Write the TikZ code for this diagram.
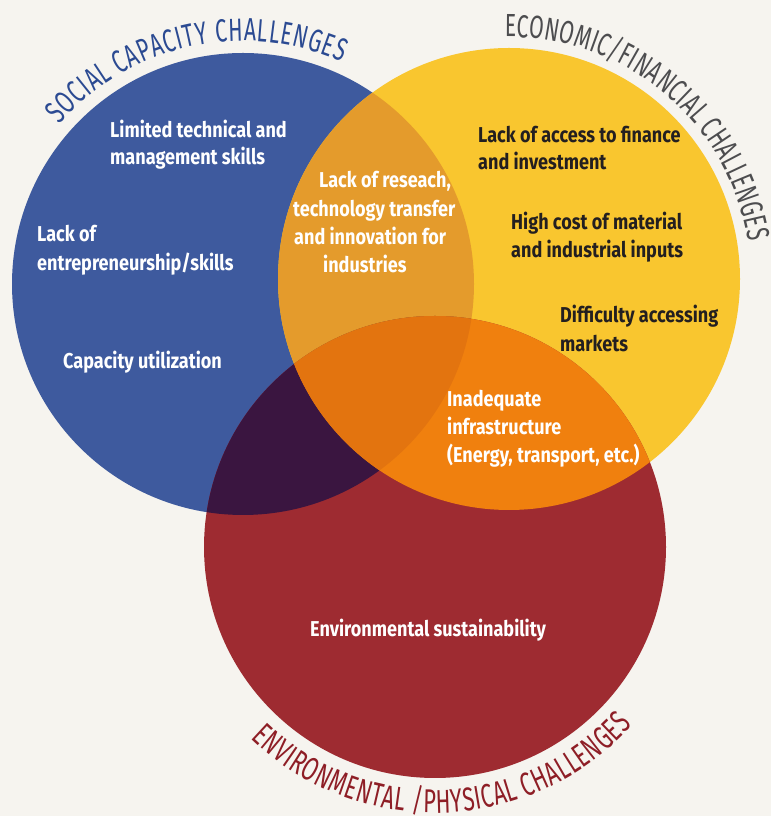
\documentclass[tikz,border=0pt]{standalone}
\usepackage{fontspec}
\setmainfont{Fira Sans}[FakeStretch=0.84]
\newfontfamily\lblfamily{Fira Sans}[FakeStretch=0.66]
\usetikzlibrary{decorations.text}
\definecolor{bgc}{HTML}{F6F4EF}
\definecolor{cblue}{HTML}{3E5A9E}
\definecolor{cyellow}{HTML}{F9C62F}
\definecolor{cred}{HTML}{9E2B31}
\definecolor{cby}{HTML}{E49B2C}
\definecolor{cbr}{HTML}{3A1540}
\definecolor{cyr}{HTML}{F0800E}
\definecolor{cbyr}{HTML}{E3740F}
\definecolor{tdark}{HTML}{231F20}
\definecolor{lblue}{HTML}{2B4A92}
\definecolor{lgray}{HTML}{4D4D4F}
\definecolor{lred}{HTML}{8E1E26}
\newcommand{\lblfont}{\lblfamily\fontsize{32}{32}\selectfont}
\newcommand{\lblfontb}{\lblfamily\fontsize{33}{33}\selectfont}
\tikzset{
  txt/.style={anchor=base west, inner sep=0pt, font=\bfseries\fontsize{21.5}{28}\selectfont, text=white},
  dtxt/.style={txt, text=tdark},
  arclabel/.style={decorate, decoration={text along path, text align=fit to path, text color=#1}}
}
\begin{document}
\begin{tikzpicture}[x=1pt,y=1pt]
\fill[bgc] (0,0) rectangle (771,816);
\useasboundingbox (0,0) rectangle (771,816);
\coordinate (B) at (243,532);
\coordinate (Y) at (509,537);
\coordinate (R) at (435,269);
% circles
\fill[cblue] (B) circle (231);
\fill[cyellow] (Y) circle (231);
\fill[cred] (R) circle (231);
\begin{scope}
  \clip (B) circle (231);
  \fill[cby] (Y) circle (231);
  \fill[cbr] (R) circle (231);
\end{scope}
\begin{scope}
  \clip (Y) circle (231);
  \fill[cyr] (R) circle (231);
\end{scope}
\begin{scope}
  \clip (B) circle (231);
  \clip (Y) circle (231);
  \fill[cbyr] (R) circle (231);
\end{scope}
% arc labels
\path[arclabel=lblue, decoration={text={|\lblfont|SOCIAL CAPACITY CHALLENGES}}]
  (B) ++(139:243) arc[start angle=139, end angle=66, radius=243];
\path[arclabel=lgray, decoration={text={|\lblfont|ECONOMIC/FINANCIAL CHALLENGES}}]
  (Y) ++(91:242) arc[start angle=91, end angle=9, radius=242];
\path[arclabel=lred, decoration={text={|\lblfontb|ENVIRONMENTAL /PHYSICAL CHALLENGES}}]
  (R) ++(226:266) arc[start angle=226, end angle=318, radius=266];
% social texts
\node[txt] (s1a) at (110,678) {Limited technical and};
\node[txt] (s1b) at (110,651) {management skills};
\node[txt] (s2a) at (37,574) {Lack of};
\node[txt] (s2b) at (37,545) {entrepreneurship/skills};
\node[txt] (s3) at (63,447) {Capacity utilization};
% center
\node[txt] (c1) at (319,628) {Lack of reseach,};
\node[txt] (c2) at (293,599) {technology transfer};
\node[txt] (c3) at (294,571) {and innovation for};
\node[txt] (c4) at (323,543) {industries};
% economic
\node[dtxt] (e1a) at (478,673) {Lack of access to finance};
\node[dtxt] (e1b) at (478,646) {and investment};
\node[dtxt] (e2a) at (511,586) {High cost of material};
\node[dtxt] (e2b) at (511,558) {and industrial inputs};
\node[dtxt] (e3a) at (560,493) {Difficulty accessing};
\node[dtxt] (e3b) at (560,464) {markets};
% infrastructure
\node[txt] (i1) at (447,409) {Inadequate};
\node[txt] (i2) at (447,381) {infrastructure};
\node[txt] (i3) at (447,353) {(Energy, transport, etc.)};
% environmental
\node[txt] (v1) at (310,179) {Environmental sustainability};
\end{tikzpicture}
\end{document}
